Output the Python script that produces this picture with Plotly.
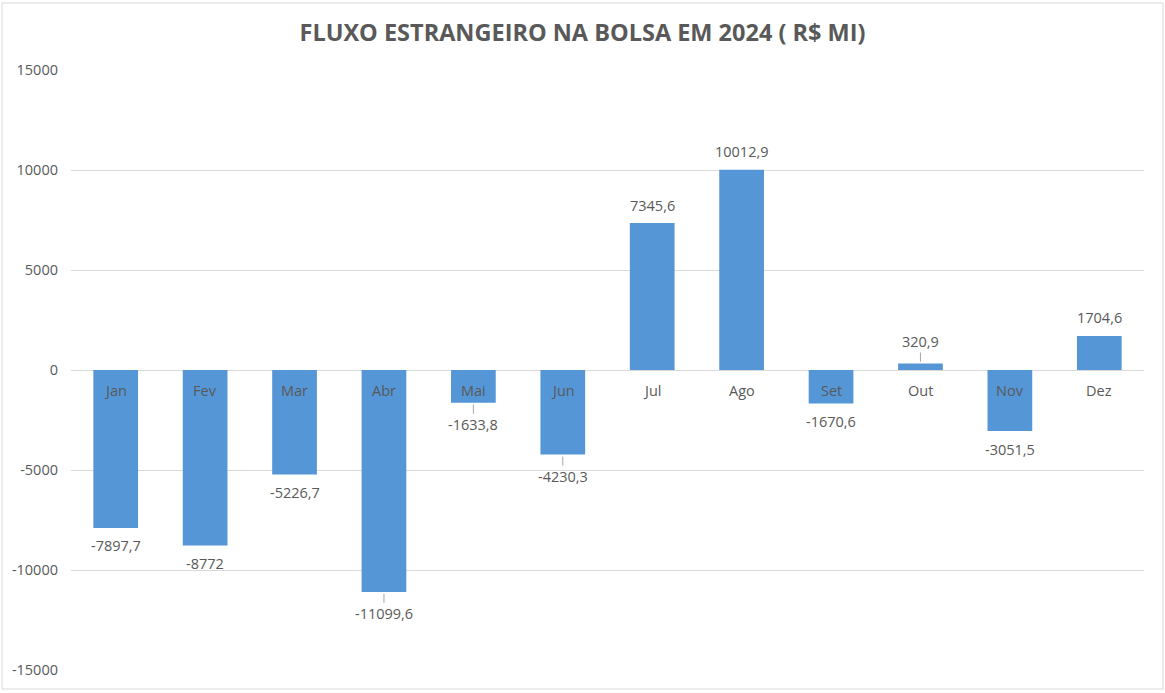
import plotly.graph_objects as go

months = ["Jan", "Fev", "Mar", "Abr", "Mai", "Jun", "Jul", "Ago", "Set", "Out", "Nov", "Dez"]
values = [-7897.7, -8772, -5226.7, -11099.6, -1633.8, -4230.3, 7345.6, 10012.9, -1670.6, 320.9, -3051.5, 1704.6]
y_ticks = [-15000, -10000, -5000, 0, 5000, 10000, 15000]
title_text = "FLUXO ESTRANGEIRO NA BOLSA EM 2024 ( R$ MI)"
leader_months = {"Abr", "Mai", "Jun", "Out"}

FONT = "Open Sans"
GRAY = "#595959"


def fmt(v):
    return f"{v:g}".replace(".", ",")


fig = go.Figure()
fig.add_trace(go.Bar(
    x=months, y=values, width=0.5,
    marker=dict(color="#5596D6", line=dict(width=0)),
    hoverinfo="x+y",
))

annotations = []
for m, v in zip(months, values):
    lead = m in leader_months
    off = 22 if lead else 18
    annotations.append(dict(
        x=m, y=v, xref="x", yref="y", text=fmt(v),
        showarrow=True, arrowhead=0, arrowwidth=1,
        arrowcolor="#A6A6A6" if lead else "rgba(0,0,0,0)",
        ax=0, ay=(off if v < 0 else -off), standoff=2,
        font=dict(family=FONT, size=14.5, color=GRAY),
    ))
    annotations.append(dict(
        x=m, y=0, xref="x", yref="y", text=m, showarrow=False,
        yshift=-20, font=dict(family=FONT, size=14.5, color=GRAY),
    ))

fig.update_layout(
    width=1165, height=693,
    margin=dict(l=71, r=21, t=70, b=23),
    paper_bgcolor="white", plot_bgcolor="white",
    title=dict(text=f"<b>{title_text}</b>", x=0.5, xref="container", xanchor="center",
               y=0.952, yanchor="middle",
               font=dict(family=FONT, size=23.5, color=GRAY)),
    xaxis=dict(range=[-0.5, 11.5], showticklabels=False, showgrid=False,
               zeroline=False, showline=False, ticks=""),
    yaxis=dict(range=[-15000, 15000], tickvals=y_ticks, ticktext=[str(t) for t in y_ticks],
               showgrid=True, gridcolor="#D9D9D9", gridwidth=1, zeroline=True,
               zerolinecolor="#D9D9D9", zerolinewidth=1, showline=False, ticks="",
               ticklabelstandoff=12, tickfont=dict(family=FONT, size=14.5, color=GRAY)),
    annotations=annotations,
    showlegend=False,
    shapes=[dict(type="rect", xref="paper", yref="paper",
                 x0=-69 / 1073, x1=1 + 19 / 1073, y0=-19 / 600, y1=1 + 67 / 600,
                 line=dict(color="#D9D9D9", width=1), layer="below")],
)

fig.write_html("out.html")
